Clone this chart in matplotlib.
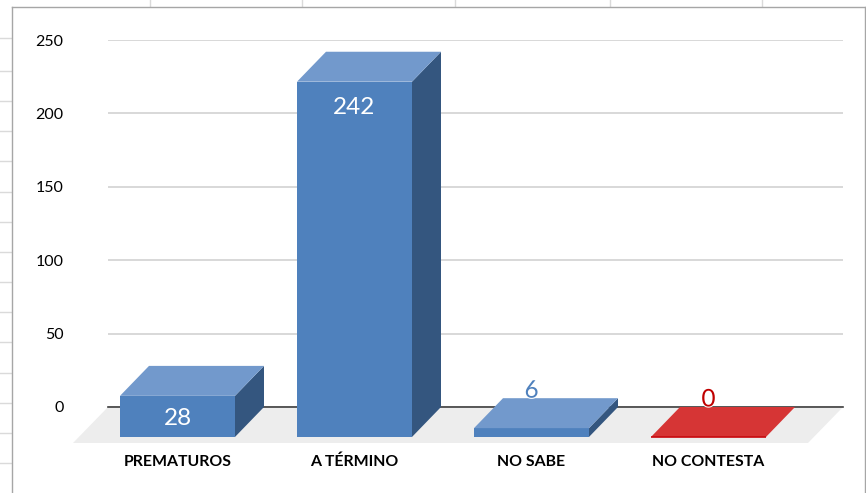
import numpy as np
import matplotlib
matplotlib.use("Agg")
import matplotlib.pyplot as plt
import matplotlib.patheffects as pe
from matplotlib.lines import Line2D
from matplotlib.patches import Polygon

categories = ["PREMATUROS", "A TÉRMINO", "NO SABE", "NO CONTESTA"]
values = [28, 242, 6, 0]
y_ticks = [0, 50, 100, 150, 200, 250]

W, H = 866, 493
BLUE_FRONT, BLUE_TOP, BLUE_SIDE = "#4F81BD", "#7299CC", "#34567F"
RED_FRONT, RED_TOP = "#C8070D", "#D63535"

# ------------------------------
# figure and axes, positions in reference pixels
# ------------------------------
plt.rcParams["font.family"] = ["Lato", "DejaVu Sans"]
fig = plt.figure(figsize=(W / 100, H / 100), dpi=100)
left, right, top, bottom = 108, 843, 40, 407
ax = fig.add_axes([left / W, 1 - bottom / H, (right - left) / W, (bottom - top) / H])

step_px = 177.0
ax.set_xlim((left - 177.5) / step_px, (right - 177.5) / step_px)
ax.set_ylim(0, 250)

# depth of the fake 3D, in data units
dx = 29 / step_px
dy = 20.4
bar_w = 115 / step_px


def face(pts, color, z):
    ax.add_patch(Polygon(pts, closed=True, facecolor=color, edgecolor="none",
                         clip_on=False, zorder=z))


# spreadsheet behind the chart
def sheet_line(x0, y0, x1, y1, color="#DADADA", lw=1.0):
    fig.add_artist(Line2D([x0 / W, x1 / W], [1 - y0 / H, 1 - y1 / H], color=color, lw=lw))


for x in [150, 302, 455, 610, 762]:
    sheet_line(x, 0, x, 6)
for y in [37.7, 70.7] + list(np.arange(100.9, 470, 30.2)):
    sheet_line(0, y, 11, y)
sheet_line(11.5, 6.5, 865, 6.5, color="#A6A6A6", lw=1.0)
sheet_line(11.5, 6.5, 11.5, H, color="#A6A6A6", lw=1.0)
sheet_line(865, 6.5, 865, H, color="#A6A6A6", lw=1.0)

# floor
x0, x1 = ax.get_xlim()
floor_dy = 36 / 367 * 250
floor_dx = 35 / step_px
face([(x0, 0), (x1, 0), (x1 - floor_dx, -floor_dy), (x0 - floor_dx, -floor_dy)], "#EDEDED", 1)

# ------------------------------
# bars
# ------------------------------
xs = np.arange(len(categories))
for i, v in zip(xs, values):
    l, r = i - bar_w / 2, i + bar_w / 2
    base, front_top = -dy, v - dy
    if v > 0:
        ax.bar(i, v, width=bar_w, bottom=base, color=BLUE_FRONT, clip_on=False, zorder=4)
        face([(r, base), (r + dx, base + dy), (r + dx, front_top + dy), (r, front_top)], BLUE_SIDE, 4)
        face([(l, front_top), (r, front_top), (r + dx, front_top + dy), (l + dx, front_top + dy)], BLUE_TOP, 4)
    else:
        face([(l, front_top), (r, front_top), (r + dx, front_top + dy), (l + dx, front_top + dy)], RED_TOP, 4)
        ax.plot([l, r], [base, base], color=RED_FRONT, lw=1.2, clip_on=False, zorder=4,
                solid_capstyle="butt")

# data labels, pixel offsets from the front top edge of each bar
label_offsets = [-23, -26, 37, 37]
label_colors = ["white", "white", BLUE_FRONT, "#C00000"]
for i, v, off, c in zip(xs, values, label_offsets, label_colors):
    txt = ax.annotate(str(v), (i, v - dy), xytext=(0, off * 0.72), textcoords="offset points",
                      ha="center", va="center", fontsize=17.5, color=c, clip_on=False,
                      annotation_clip=False, zorder=6)
    if v < 10:
        txt.set_path_effects([pe.withStroke(linewidth=1.5, foreground="white")])

# ------------------------------
# axes look
# ------------------------------
ax.set_yticks(y_ticks)
ax.set_xticks(xs)
ax.set_xticklabels(categories, fontsize=11.4, fontweight="bold", color="black")
ax.tick_params(axis="x", length=0, pad=34.5)
ax.tick_params(axis="y", length=0, pad=32, labelsize=11.5, labelcolor="black")
ax.yaxis.grid(True, color="#D2D2D2", lw=1.2)
ax.set_axisbelow(True)
for s in ["top", "left", "right"]:
    ax.spines[s].set_visible(False)
ax.spines["bottom"].set_color("#404040")
ax.spines["bottom"].set_linewidth(1.2)
ax.spines["bottom"].set_zorder(3)
ax.patch.set_visible(False)

fig.savefig("out.png", dpi=100)
